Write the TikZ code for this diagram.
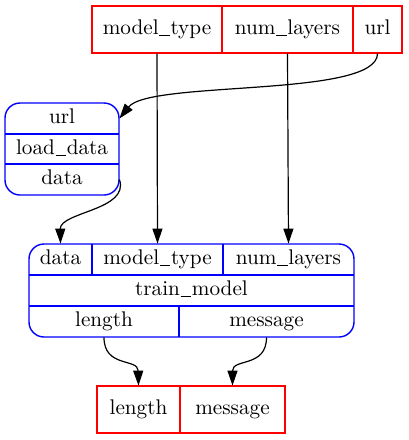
\documentclass[tikz,border=0pt]{standalone}
\usepackage{fontspec}
\usetikzlibrary{arrows.meta}
\newcommand{\usc}{\kern0.03em\rule[-0.18ex]{0.5em}{0.045em}\kern0.03em}
\begin{document}
\begin{tikzpicture}[x=0.5pt,y=-0.5pt,
  cell/.style={inner sep=0pt, minimum height=15.5pt, text height=7.6pt, text depth=2.4pt, font=\fontsize{10.6}{13}\selectfont},
  bigcell/.style={cell, minimum height=23.5pt},
  redframe/.style={draw=red, line width=0.7pt},
  blueframe/.style={draw=blue, line width=0.7pt},
  arr/.style={draw=black, line width=0.6pt, -{Triangle[length=7.5pt,width=5pt]}}]
\useasboundingbox (0,0) rectangle (408,440);
% top inputs
\node[bigcell, minimum width=65pt] (tmt) at (157,29.5) {model\usc type};
\node[bigcell, minimum width=65.5pt] (tnl) at (287.5,29.5) {num\usc layers};
\node[bigcell, minimum width=24.5pt] (turl) at (377.5,29.5) {url};
\draw[redframe] (92,6) rectangle (402,53);
\draw[redframe] (222,6) -- (222,53) (353,6) -- (353,53);
% load_data
\node[cell, minimum width=57pt] (lurl) at (62,118.5) {url};
\node[cell, minimum width=57pt] (lname) at (62,149) {load\usc data};
\node[cell, minimum width=57pt] (ldata) at (62,179.5) {data};
\draw[blueframe, rounded corners=7.5pt] (5,103) rectangle (119,195);
\draw[blueframe] (5,134) -- (119,134) (5,164) -- (119,164);
% train_model
\node[cell, minimum width=31.5pt] (tdata) at (60.5,259.5) {data};
\node[cell, minimum width=65.5pt] (tmodel) at (157.5,259.5) {model\usc type};
\node[cell, minimum width=65.5pt] (tlayers) at (288.5,259.5) {num\usc layers};
\node[cell, minimum width=162.5pt] (tname) at (191.5,290.5) {train\usc model};
\node[cell, minimum width=75pt] (tlen) at (104,321.5) {length};
\node[cell, minimum width=87.5pt] (tmsg) at (266.5,321.5) {message};
\draw[blueframe, rounded corners=7.5pt] (29,244) rectangle (354,337);
\draw[blueframe] (29,275) -- (354,275) (29,306) -- (354,306);
\draw[blueframe] (92,244) -- (92,275) (223,244) -- (223,275) (179,306) -- (179,337);
% outputs
\node[bigcell, minimum width=41.5pt] (olen) at (138.5,409.5) {length};
\node[bigcell, minimum width=52.5pt] (omsg) at (232.5,409.5) {message};
\draw[redframe] (97,386) rectangle (285,433);
\draw[redframe] (180,386) -- (180,433);
% edges
\draw[arr] (tmt.south) -- (tmodel.north);
\draw[arr] (tnl.south) -- (tlayers.north);
\draw[arr] (turl.south) .. controls (378,98) and (150,80) .. (lurl.east);
\draw[arr] (ldata.east) .. controls (130,210) and (60,212) .. (tdata.north);
\draw[arr] (tlen.south) .. controls (104,368) and (138,358) .. (olen.north);
\draw[arr] (tmsg.south) .. controls (266.5,368) and (232.5,358) .. (omsg.north);
\end{tikzpicture}
\end{document}
